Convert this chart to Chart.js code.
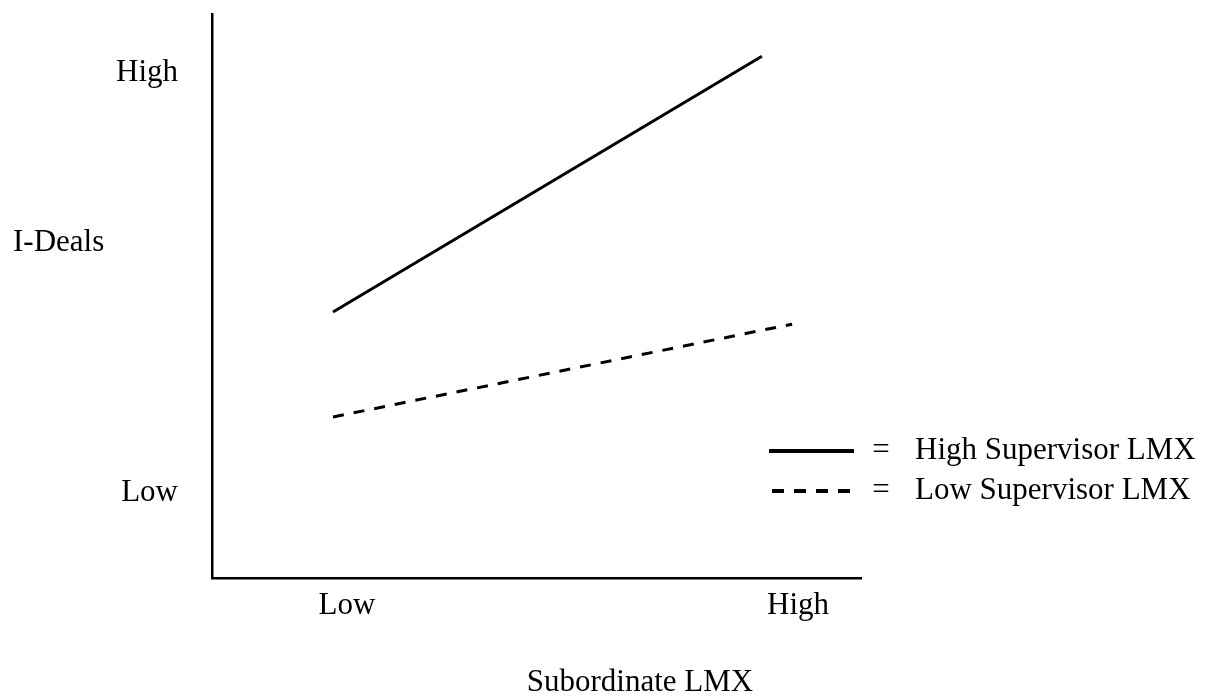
<!DOCTYPE html>
<html><head><meta charset="utf-8">
<script src="https://cdn.jsdelivr.net/npm/chart.js@4.4.0/dist/chart.umd.min.js"></script>
<style>html,body{margin:0;padding:0;background:#fff;}#wrap{width:1207px;height:698px;position:relative;}</style>
</head><body><div id="wrap"><canvas id="c" width="1207" height="698"></canvas></div>
<script>
// ---- data ----
const xTickValues = [1, 2];
const xTickLabels = ['Low', 'High'];
const yTickValues = [1, 2];
const yTickLabels = ['Low', 'High'];
const seriesNames = ['High Supervisor LMX', 'Low Supervisor LMX'];
const highSupX = [0.969, 1.920];
const highSupY = [1.431, 2.040];
const lowSupX = [0.969, 1.987];
const lowSupY = [1.181, 1.402];
const xAxisTitle = 'Subordinate LMX';
const yAxisTitle = 'I-Deals';

const FONT = "'Liberation Serif', 'Times New Roman', serif";
const FSIZE = 31;
const toPts = (xs, ys) => xs.map((x, i) => ({x: x, y: ys[i]}));

const DASH = [11, 10];

const textPlugin = {
  id: 'textPlugin',
  afterDraw(chart) {
    const ctx = chart.ctx;
    ctx.save();
    ctx.fillStyle = '#000';
    ctx.font = FSIZE + 'px ' + FONT;
    ctx.textBaseline = 'middle';
    // y-axis title
    ctx.textAlign = 'left';
    ctx.fillText(yAxisTitle, 13, 243);
    // x-axis title
    ctx.textAlign = 'center';
    ctx.fillText(xAxisTitle, 640, 683);
    // legend
    const rows = [451, 491];
    chart.data.datasets.forEach((ds, i) => {
      const y = rows[i];
      ctx.save();
      ctx.strokeStyle = ds.borderColor;
      ctx.lineWidth = 4;
      ctx.setLineDash(i === 0 ? [] : [12, 10]);
      ctx.beginPath();
      ctx.moveTo(i === 0 ? 769 : 772, y);
      ctx.lineTo(i === 0 ? 854 : 850, y);
      ctx.stroke();
      ctx.restore();
      ctx.textAlign = 'center';
      ctx.fillText('=', 881, y);
      ctx.textAlign = 'left';
      ctx.fillText(ds.label, 915, y);
    });
    ctx.restore();
  }
};

new Chart(document.getElementById('c'), {
  type: 'scatter',
  data: {
    datasets: [
      {label: seriesNames[0], data: toPts(highSupX, highSupY), showLine: true,
       borderColor: '#000', borderWidth: 3, pointRadius: 0, borderDash: [], fill: false},
      {label: seriesNames[1], data: toPts(lowSupX, lowSupY), showLine: true,
       borderColor: '#000', borderWidth: 3, pointRadius: 0, borderDash: DASH, fill: false}
    ]
  },
  options: {
    responsive: false,
    animation: false,
    devicePixelRatio: 1,
    layout: {padding: {left: 72, top: 14, right: 346, bottom: 60}},
    plugins: {legend: {display: false}, tooltip: {enabled: false}, title: {display: false}},
    scales: {
      x: {
        type: 'linear', min: 0.7007, max: 2.1397,
        grid: {display: false},
        border: {display: true, color: '#000', width: 2.5},
        afterBuildTicks: s => { s.ticks = xTickValues.map(v => ({value: v})); },
        ticks: {
          color: '#000', padding: 1, maxRotation: 0, autoSkip: false,
          font: {family: FONT, size: FSIZE},
          callback: v => { const i = xTickValues.indexOf(v); return i >= 0 ? xTickLabels[i] : ''; }
        },
        afterFit: s => { s.height = 60; s.paddingLeft = 0; s.paddingRight = 0; }
      },
      y: {
        type: 'linear', min: 0.7976, max: 2.1405,
        grid: {display: false},
        border: {display: true, color: '#000', width: 2.5},
        afterBuildTicks: s => { s.ticks = yTickValues.map(v => ({value: v})); },
        ticks: {
          color: '#000', padding: 26, crossAlign: 'near', autoSkip: false,
          font: {family: FONT, size: FSIZE},
          callback: v => { const i = yTickValues.indexOf(v); return i >= 0 ? yTickLabels[i] : ''; }
        },
        afterFit: s => { s.width = 140; s.paddingTop = 0; s.paddingBottom = 0; }
      }
    }
  },
  plugins: [textPlugin]
});
</script></body></html>
